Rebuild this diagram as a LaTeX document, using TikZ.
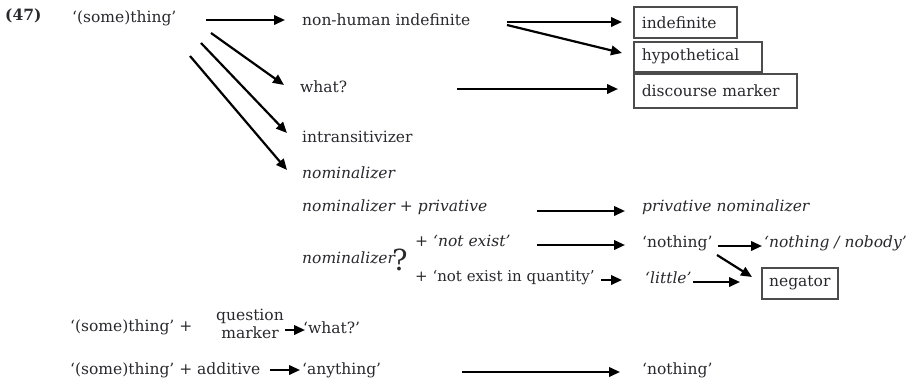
\documentclass[tikz,border=0pt]{standalone}
\usepackage{fontspec}
\setmainfont{DejaVu Serif}
\usetikzlibrary{arrows.meta}
\definecolor{txt}{RGB}{40,40,45}
\newcommand{\fs}{\fontsize{15.5}{18}\selectfont}
\tikzset{
  lbl/.style={anchor=west, inner sep=0pt, font=\fs, text=txt},
  arr/.style={line width=2.2pt, -{Triangle[length=11pt,width=9.5pt]}},
  tbox/.style={draw=black!70, line width=1.6pt, anchor=north west, inner ysep=0pt, font=\fs, text=txt, minimum height=31pt},
}
\begin{document}
\begin{tikzpicture}[x=1pt,y=-1pt]
\useasboundingbox (0,0) rectangle (911,384);
% labels
\node[lbl, font=\fs\bfseries] (n47) at (5,16) {(47)};
\node[lbl] (thing) at (72,18) {‘(some)thing’};
\node[lbl] (nhi) at (302,20) {non-human indefinite};
\node[lbl] (what) at (300,87) {what?};
\node[lbl] (intr) at (302,137) {intransitivizer};
\node[lbl] (nom) at (302,173) {\itshape nominalizer};
\node[lbl] (nompriv) at (302,207) {\itshape nominalizer + privative};
\node[lbl] (nom2) at (302,258) {\itshape nominalizer};
\node[lbl, font=\fontsize{29}{32}\selectfont] (qm) at (392,260) {?};
\node[lbl] (ne) at (415,241) {\itshape + ‘not exist’};
\node[lbl, font=\fontsize{15}{18}\selectfont] (neq) at (415,278) {+ ‘not exist in quantity’};
\node[lbl] (privnom) at (642,207) {\itshape privative nominalizer};
\node[lbl] (nothing1) at (642,243) {‘nothing’};
\node[lbl] (nn) at (764,243) {\itshape ‘nothing / nobody’};
\node[lbl] (little) at (645,278) {\itshape ‘little’};
\node[lbl] (thing2) at (70,327) {‘(some)thing’ +};
\node[lbl, anchor=center, align=center] (qmark) at (250,324) {question\\marker};
\node[lbl] (what2) at (303,328) {‘what?’};
\node[lbl] (thing3) at (70,370) {‘(some)thing’ + additive};
\node[lbl] (anything) at (302,370) {‘anything’};
\node[lbl] (nothing2) at (642,370) {‘nothing’};
% boxes
\node[tbox, text width=87pt, inner xsep=8pt, align=left] (ind) at (633,6) {indefinite};
\node[tbox, text width=112pt, inner xsep=8pt, align=left, minimum height=30pt] (hyp) at (633,41) {hypothetical};
\node[tbox, text width=147pt, inner xsep=8pt, align=left, minimum height=34pt] (disc) at (633,73) {discourse marker};
\node[tbox, minimum width=76pt, align=center] (neg) at (761,267) {negator};
% arrows
\draw[arr] ([shift={(134,2)}]thing.west) -- ([shift={(-17,0)}]nhi.west);
\draw[arr] ([shift={(139,15)}]thing.west) -- ([shift={(-16,-2)}]what.west);
\draw[arr] ([shift={(129,25)}]thing.west) -- ([shift={(-15,-4)}]intr.west);
\draw[arr] ([shift={(118,38)}]thing.west) -- ([shift={(-15,-3)}]nom.west);
\draw[arr] ([shift={(205,2)}]nhi.west) -- ([shift={(-11,16)}]ind.north west);
\draw[arr] ([shift={(205,5)}]nhi.west) -- ([shift={(-11,12)}]hyp.north west);
\draw[arr] ([shift={(157,2)}]what.west) -- ([shift={(-15,16)}]disc.north west);
\draw[arr] ([shift={(235,4)}]nompriv.west) -- ([shift={(-17,4)}]privnom.west);
\draw[arr] ([shift={(122,4)}]ne.west) -- ([shift={(-17,2)}]nothing1.west);
\draw[arr] ([shift={(186,2)}]neq.west) -- ([shift={(-23,2)}]little.west);
\draw[arr] ([shift={(76,3)}]nothing1.west) -- ([shift={(-2,3)}]nn.west);
\draw[arr] ([shift={(75,12)}]nothing1.west) -- ([shift={(-9,10)}]neg.north west);
\draw[arr] ([shift={(48,4)}]little.west) -- ([shift={(-21,15)}]neg.north west);
\draw[arr] ([shift={(35,6)}]qmark.center) -- ([shift={(2,2)}]what2.west);
\draw[arr] ([shift={(200,0)}]thing3.west) -- ([shift={(-2,0)}]anything.west);
\draw[arr] ([shift={(160,2)}]anything.west) -- ([shift={(-22,2)}]nothing2.west);
\end{tikzpicture}
\end{document}
